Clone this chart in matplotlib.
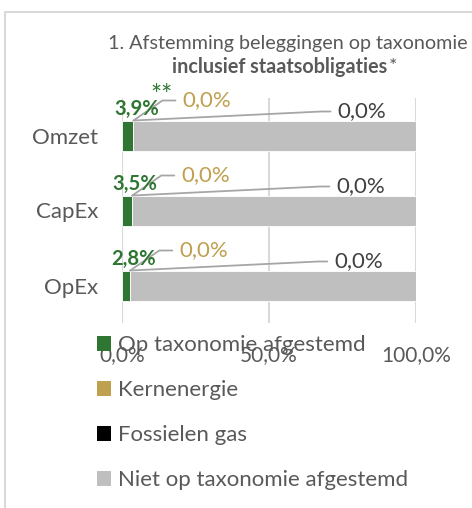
import math
import numpy as np
import matplotlib.pyplot as plt
from matplotlib.patches import Rectangle, Patch

plt.rcParams['font.family'] = ['Lato', 'DejaVu Sans']

categories = ['Omzet', 'CapEx', 'OpEx']
aligned = [3.9, 3.5, 2.8]
nuclear = [0.0, 0.0, 0.0]
gas = [0.0, 0.0, 0.0]
not_aligned = [96.1, 96.5, 97.2]
series_names = ['Op taxonomie afgestemd', 'Kernenergie', 'Fossielen gas',
                'Niet op taxonomie afgestemd']
xticks = [0, 50, 100]
xticklabels = ['0,0%', '50,0%', '100,0%']

green = '#2E7631'
gold = '#BFA04F'
black = '#000000'
grey = '#BFBFBF'
txt = '#595959'

fig = plt.figure(figsize=(4.72, 5.08), dpi=100)
W, H = 472, 508

# light frame of the chart area
fig.patches.append(Rectangle((5 / W, -0.1), 1.2, 1.1 - 12 / H,
                             transform=fig.transFigure, fill=False,
                             edgecolor='#D9D9D9', linewidth=1.5, zorder=-5))

ax = fig.add_axes([122 / W, 1 - 323 / H, 294 / W, 225 / H])

y = np.arange(len(categories))
left = np.zeros(len(categories))
colors = [green, gold, black, grey]
for vals, col in zip([aligned, nuclear, gas, not_aligned], colors):
    ax.barh(y, vals, left=left, height=0.4, color=col, edgecolor='white',
            linewidth=0.6, zorder=3)
    left = left + np.array(vals)

ax.set_xlim(0, 100)
ax.set_ylim(2.5, -0.5)
ax.set_yticks(y)
ax.set_yticklabels(categories, fontsize=16, color=txt)
ax.set_xticks(xticks)
ax.set_xticklabels(xticklabels, fontsize=15, color=txt)
ax.tick_params(length=0)
ax.tick_params(axis='x', pad=16)
ax.tick_params(axis='y', pad=17)
for s in ax.spines.values():
    s.set_visible(False)
ax.grid(axis='x', color='#D9D9D9', linewidth=1.5, zorder=0)
ax.set_axisbelow(True)


def fmt(v):
    return f'{v:.1f}%'.replace('.', ',')


def leader(text, anchor, dx, dy, color, gap=16):
    ang = math.degrees(math.atan2(dy, dx - gap))
    ax.annotate(text, xy=anchor, xytext=(dx, dy), textcoords='offset pixels',
                fontsize=16, color=color, ha='left', va='center', zorder=5,
                arrowprops=dict(arrowstyle='-', color='#A6A6A6', lw=1.3,
                                relpos=(0, 0.5), shrinkA=3, shrinkB=0,
                                connectionstyle=f'angle,angleA=0,angleB={ang},rad=0'))


for i in range(len(categories)):
    anchor = (aligned[i], i - 0.2)
    ax.annotate(fmt(aligned[i]), xy=anchor, xytext=(3, 12),
                textcoords='offset pixels', fontsize=14.6, fontweight='bold',
                color=green, ha='center', va='center', zorder=6)
    leader(fmt(nuclear[i]), anchor, 49, 20, gold, gap=20)
    leader(fmt(gas[i]), anchor, 204, 9, '#404040', gap=16)

ax.annotate('**', xy=(aligned[0], -0.2), xytext=(28, 24),
            textcoords='offset pixels', fontsize=19, color=green,
            ha='center', va='center', zorder=6)

fig.text(288 / W, 1 - 43 / H, '1. Afstemming beleggingen op taxonomie',
         ha='center', va='center', fontsize=14.2, color=txt)
t2 = fig.text(280 / W, 1 - 67 / H, 'inclusief staatsobligaties',
              ha='center', va='center', fontsize=14.2, fontweight='bold', color=txt)
ax.annotate('*', xy=(1, 0.5), xycoords=t2, xytext=(1, 0),
            textcoords='offset pixels', ha='left', va='center',
            fontsize=14.2, color=txt, annotation_clip=False)

handles = [Patch(facecolor=c, edgecolor='none') for c in colors]
fig.legend(handles, series_names, loc='upper left',
           bbox_to_anchor=(88 / W, 1 - 326 / H), frameon=False,
           fontsize=16, labelcolor=txt, handlelength=0.65, handleheight=0.65,
           handletextpad=0.3, labelspacing=1.13, borderaxespad=0)

fig.savefig('out.png', dpi=100)
